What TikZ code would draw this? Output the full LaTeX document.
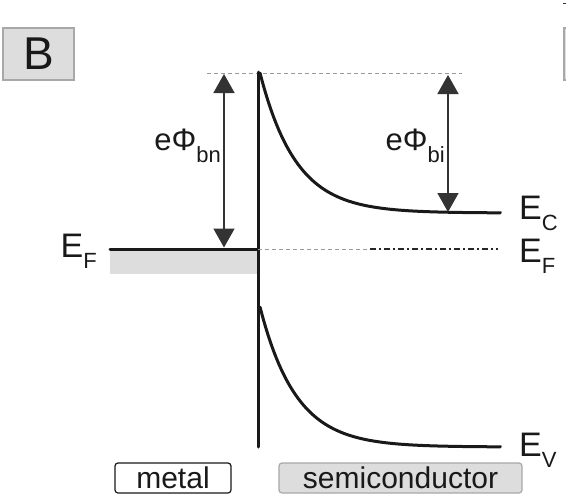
\documentclass[tikz,border=0pt]{standalone}
\usepackage{fontspec}
\setmainfont{Liberation Sans}
\usetikzlibrary{arrows.meta,calc}
\definecolor{lightfill}{HTML}{DDDDDD}
\definecolor{boxline}{HTML}{A8A8A8}
\definecolor{dashgray}{HTML}{9A9A9A}
\newcommand{\lvl}[3][11pt]{#2\raisebox{-#1}{\fontsize{22}{22}\selectfont #3}}

\begin{document}
\begin{tikzpicture}[x=1pt,y=-1pt,
  band/.style={line width=3pt,black!90,line cap=round},
  gap/.style={line width=1.8pt,black!80,{Triangle[width=21pt,length=19pt]}-{Triangle[width=21pt,length=19pt]}},
  guide/.style={line width=1pt,dashgray,dash pattern=on 4pt off 3pt},
  lbl/.style={inner sep=0pt,text=black!90,font=\fontsize{34}{34}\selectfont},
  tag/.style={rounded corners=3pt,line width=1.2pt,minimum height=30pt,inner sep=0pt,text=black!90,font=\fontsize{30}{30}\selectfont}]
\useasboundingbox (0,0) rectangle (566,496);
\clip (0,0) rectangle (566,496);

% panel letter
\node[draw=boxline,fill=lightfill,line width=1.5pt,minimum width=71pt,minimum height=52pt,inner sep=0pt,
  text=black!90,font=\fontsize{46}{46}\selectfont] (panel) at (38.5,54) {B};
\draw[boxline,line width=1.5pt,fill=lightfill] (564,28) rectangle (620,80);
\draw[black!80,line width=1pt] (563,3) -- (566,3);

% levels
\coordinate (vac0) at (207,73);
\coordinate (vac1) at (462,73);
\coordinate (ifTop) at (258,72);
\coordinate (ifBot) at (258,447);
\fill[lightfill] (110,249) rectangle (257,274);
\draw[guide] (vac0) -- (vac1);
\draw[band] (ifTop) -- (ifBot);
\draw[band] (110,249) coordinate (mEF) -- (258,249) coordinate (ifEF);
\draw[guide] (ifEF) -- (370,249) coordinate (sEF0);
\draw[black!85,line width=2pt,dash pattern=on 6pt off 3pt on 2pt off 3pt] (sEF0) -- (498,249) coordinate (sEF1);

% band bending
\draw[band] plot[domain=0:240,samples=90] ({260+\x},{213-140*exp(-\x/36)}) -- (500,213) coordinate (ecEnd);
\draw[band] plot[domain=0:240,samples=90] ({260+\x},{447-140*exp(-\x/36)}) -- (500,447) coordinate (evEnd);

% barriers
\coordinate (bnTop) at (224,74);
\coordinate (bnBot) at (224,247.5);
\coordinate (biTop) at (448,75);
\coordinate (biBot) at (448,212);
\draw[gap] (bnTop) -- (bnBot);
\draw[gap] (biTop) -- (biBot);
\node[lbl,anchor=base east,font=\fontsize{31}{31}\selectfont] (bn) at (221,150) {eΦ\lvl[12pt]{}{bn}};
\node[lbl,anchor=base east,font=\fontsize{31}{31}\selectfont] (bi) at (445,150) {eΦ\lvl[12pt]{}{bi}};

% labels
\node[lbl,anchor=base east] (efm) at (97,257) {\lvl{E}{F}};
\node[lbl,anchor=base west] (ec) at (519,219) {\lvl{E}{C}};
\node[lbl,anchor=base west] (efs) at (519,262) {\lvl{E}{F}};
\node[lbl,anchor=base west] (ev) at (519,456) {\lvl{E}{V}};

\node[tag,draw=black!90,fill=white,minimum width=116pt] (metal) at (173,478) {metal};
\node[tag,draw=boxline,fill=lightfill,minimum width=243pt] (semi) at (400.5,478) {semiconductor};
\end{tikzpicture}
\end{document}
